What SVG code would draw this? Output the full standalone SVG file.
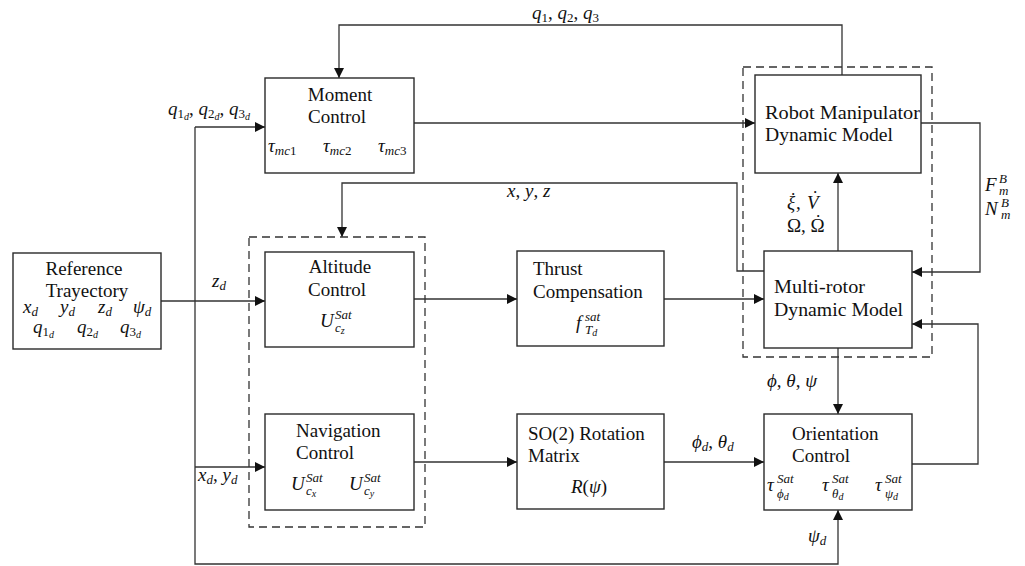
<svg xmlns="http://www.w3.org/2000/svg" width="1025" height="566" viewBox="0 0 1025 566">
<style>
.b{fill:#fff;stroke:#2a2a2a;stroke-width:1.4}
.d{fill:none;stroke:#333;stroke-width:1.3;stroke-dasharray:8 5}
.c{fill:none;stroke:#333;stroke-width:1.3}
text{font-family:'Liberation Serif','Times New Roman',serif;font-size:19px;fill:#111}
.i{font-style:italic}
.s{font-size:13px}
.ss{font-size:10px}
</style>
<defs>
<marker id="ah" markerWidth="10" markerHeight="10" refX="10" refY="5" orient="auto" markerUnits="userSpaceOnUse">
<path d="M0,0 L10,5 L0,10 z" fill="#111"/>
</marker>
</defs>
<rect width="1025" height="566" fill="#fff"/>

<g id="connectors" class="c">
<path d="M161,301 H265" marker-end="url(#ah)"/>
<path d="M195,127 V564 H838 V510" marker-end="url(#ah)"/>
<path d="M195,127 H265" marker-end="url(#ah)"/>
<path d="M195,467 H265" marker-end="url(#ah)"/>
<path d="M414,123 H755" marker-end="url(#ah)"/>
<path d="M842,75 V25 H339 V78" marker-end="url(#ah)"/>
<path d="M921,123 H980 V272 H912" marker-end="url(#ah)"/>
<path d="M838,251 V173" marker-end="url(#ah)"/>
<path d="M764,271 H737 V183 H342 V237" marker-end="url(#ah)"/>
<path d="M414,299 H517" marker-end="url(#ah)"/>
<path d="M664,299 H764" marker-end="url(#ah)"/>
<path d="M838,348 V414" marker-end="url(#ah)"/>
<path d="M414,462 H517" marker-end="url(#ah)"/>
<path d="M664,462 H764" marker-end="url(#ah)"/>
<path d="M912,464 H978 V324 H912" marker-end="url(#ah)"/>
</g>

<g id="group-controllers">
<rect class="d" x="249" y="237" width="176" height="290"/>
</g>
<g id="group-dynamics">
<rect class="d" x="743" y="67" width="189" height="290"/>
</g>

<g id="reference">
<rect class="b" x="13" y="253" width="148" height="96"/>
<text x="84" y="275" text-anchor="middle">Reference</text>
<text x="87" y="297" text-anchor="middle">Trayectory</text>
<text><tspan class="i" x="23" y="313">x</tspan><tspan class="s i" dy="3">d</tspan><tspan class="i" x="60" y="313">y</tspan><tspan class="s i" dy="3">d</tspan><tspan class="i" x="98" y="313">z</tspan><tspan class="s i" dy="3">d</tspan><tspan class="i" x="133" y="313">ψ</tspan><tspan class="s i" dy="3">d</tspan><tspan class="i" x="33" y="333">q</tspan><tspan class="s" dy="3">1</tspan><tspan class="ss i" dy="2">d</tspan><tspan class="i" x="77" y="333">q</tspan><tspan class="s" dy="3">2</tspan><tspan class="ss i" dy="2">d</tspan><tspan class="i" x="120" y="333">q</tspan><tspan class="s" dy="3">3</tspan><tspan class="ss i" dy="2">d</tspan></text>
</g>

<g id="moment-control">
<rect class="b" x="265" y="78" width="149" height="95"/>
<text x="340" y="101" text-anchor="middle">Moment</text>
<text x="337" y="123" text-anchor="middle">Control</text>
<text x="268" y="152"><tspan class="i">τ</tspan><tspan class="s" dy="3"><tspan class="i">mc</tspan>1</tspan></text>
<text x="323" y="152"><tspan class="i">τ</tspan><tspan class="s" dy="3"><tspan class="i">mc</tspan>2</tspan></text>
<text x="378" y="152"><tspan class="i">τ</tspan><tspan class="s" dy="3"><tspan class="i">mc</tspan>3</tspan></text>
</g>

<g id="altitude-control">
<rect class="b" x="265" y="252" width="149" height="95"/>
<text x="340" y="273" text-anchor="middle">Altitude</text>
<text x="337" y="296" text-anchor="middle">Control</text>
<text><tspan class="i" x="320" y="327">U</tspan><tspan class="s i" x="335" y="319">Sat</tspan><tspan class="s i" x="335" y="332">c</tspan><tspan class="ss i" dy="2">z</tspan></text>
</g>

<g id="navigation-control">
<rect class="b" x="265" y="414" width="149" height="96"/>
<text x="296" y="437">Navigation</text>
<text x="296" y="459">Control</text>
<text><tspan class="i" x="291" y="490">U</tspan><tspan class="s i" x="306" y="482">Sat</tspan><tspan class="s i" x="306" y="495">c</tspan><tspan class="ss i" dy="2">x</tspan></text>
<text><tspan class="i" x="349" y="490">U</tspan><tspan class="s i" x="364" y="482">Sat</tspan><tspan class="s i" x="364" y="495">c</tspan><tspan class="ss i" dy="2">y</tspan></text>
</g>

<g id="thrust-compensation">
<rect class="b" x="517" y="251" width="147" height="95"/>
<text x="533" y="275">Thrust</text>
<text x="533" y="298">Compensation</text>
<text><tspan class="i" x="576" y="329">f</tspan><tspan class="s i" x="585" y="321">sat</tspan><tspan class="s i" x="585" y="334">T</tspan><tspan class="ss i" dy="2">d</tspan></text>
</g>

<g id="so2-rotation">
<rect class="b" x="517" y="414" width="147" height="95"/>
<text x="528" y="440">SO(2) Rotation</text>
<text x="528" y="462">Matrix</text>
<text x="571" y="493"><tspan class="i">R</tspan>(<tspan class="i">ψ</tspan>)</text>
</g>

<g id="robot-manipulator">
<rect class="b" x="755" y="75" width="166" height="98"/>
<text x="765" y="119" textLength="155" lengthAdjust="spacingAndGlyphs">Robot Manipulator</text>
<text x="765" y="141" textLength="128" lengthAdjust="spacingAndGlyphs">Dynamic Model</text>
</g>

<g id="multirotor">
<rect class="b" x="764" y="251" width="148" height="97"/>
<text x="774" y="293" textLength="91" lengthAdjust="spacingAndGlyphs">Multi-rotor</text>
<text x="774" y="316" textLength="129" lengthAdjust="spacingAndGlyphs">Dynamic Model</text>
</g>

<g id="orientation-control">
<rect class="b" x="764" y="414" width="148" height="96"/>
<text x="792" y="440">Orientation</text>
<text x="792" y="462">Control</text>
<text><tspan class="i" x="767" y="491">τ</tspan><tspan class="s i" x="777" y="483">Sat</tspan><tspan class="s i" x="777" y="498">ϕ</tspan><tspan class="ss i" dy="2">d</tspan></text>
<text><tspan class="i" x="822" y="491">τ</tspan><tspan class="s i" x="832" y="483">Sat</tspan><tspan class="s i" x="832" y="498">θ</tspan><tspan class="ss i" dy="2">d</tspan></text>
<text><tspan class="i" x="875" y="491">τ</tspan><tspan class="s i" x="885" y="483">Sat</tspan><tspan class="s i" x="885" y="498">ψ</tspan><tspan class="ss i" dy="2">d</tspan></text>
</g>

<g id="labels">
<text x="532" y="19"><tspan class="i">q</tspan><tspan class="s" dy="3">1</tspan><tspan dy="-3">, </tspan><tspan class="i">q</tspan><tspan class="s" dy="3">2</tspan><tspan dy="-3">, </tspan><tspan class="i">q</tspan><tspan class="s" dy="3">3</tspan></text>
<text x="168" y="115"><tspan class="i">q</tspan><tspan class="s" dy="3">1</tspan><tspan class="ss i" dy="2">d</tspan><tspan dy="-5">, </tspan><tspan class="i">q</tspan><tspan class="s" dy="3">2</tspan><tspan class="ss i" dy="2">d</tspan><tspan dy="-5">, </tspan><tspan class="i">q</tspan><tspan class="s" dy="3">3</tspan><tspan class="ss i" dy="2">d</tspan></text>
<text x="507" y="197"><tspan class="i">x</tspan>, <tspan class="i">y</tspan>, <tspan class="i">z</tspan></text>
<text x="212" y="287"><tspan class="i">z</tspan><tspan class="s i" dy="3">d</tspan></text>
<text x="198" y="481"><tspan class="i">x</tspan><tspan class="s i" dy="3">d</tspan><tspan dy="-3">, </tspan><tspan class="i">y</tspan><tspan class="s i" dy="3">d</tspan></text>
<text><tspan x="790" y="206">˙</tspan><tspan x="812" y="204">˙</tspan><tspan class="i" x="787" y="209">ξ</tspan><tspan x="796" y="209">, </tspan><tspan class="i" x="807" y="209">V</tspan></text>
<text><tspan x="787" y="232">Ω, Ω</tspan><tspan x="815" y="228">˙</tspan></text>
<text><tspan class="i" x="985" y="191">F</tspan><tspan class="s i" x="999" y="183">B</tspan><tspan class="s i" x="999" y="195">m</tspan><tspan class="i" x="985" y="215">N</tspan><tspan class="s i" x="1001" y="207">B</tspan><tspan class="s i" x="1001" y="219">m</tspan></text>
<text x="767" y="387"><tspan class="i">ϕ</tspan>, <tspan class="i">θ</tspan>, <tspan class="i">ψ</tspan></text>
<text x="692" y="448"><tspan class="i">ϕ</tspan><tspan class="s i" dy="3">d</tspan><tspan dy="-3">, </tspan><tspan class="i">θ</tspan><tspan class="s i" dy="3">d</tspan></text>
<text x="808" y="542"><tspan class="i">ψ</tspan><tspan class="s i" dy="3">d</tspan></text>
</g>
</svg>
